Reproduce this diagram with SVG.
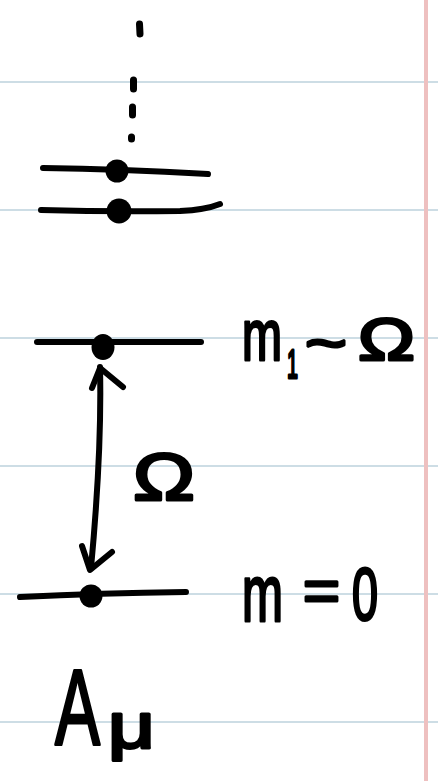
<svg xmlns="http://www.w3.org/2000/svg" width="438" height="781" viewBox="0 0 438 781">
<style>
.rule{stroke:#cddde5;stroke-width:2}
.margin{stroke:#eec0c0;stroke-width:4}
.ink{fill:none;stroke:#000;stroke-width:6;stroke-linecap:round;stroke-linejoin:round}
.dash{fill:none;stroke:#000;stroke-width:7;stroke-linecap:round}
.dot{fill:#000}
.t{font-family:"Liberation Sans",Arial,sans-serif;fill:#000;stroke:#000;stroke-width:3;stroke-linejoin:round}
</style>
<rect width="438" height="781" fill="#fff"/>
<g id="paper">
<line class="rule" x1="0" y1="82" x2="438" y2="82"/>
<line class="rule" x1="0" y1="210" x2="438" y2="210"/>
<line class="rule" x1="0" y1="338" x2="438" y2="338"/>
<line class="rule" x1="0" y1="466" x2="438" y2="466"/>
<line class="rule" x1="0" y1="594" x2="438" y2="594"/>
<line class="rule" x1="0" y1="722" x2="438" y2="722"/>
<line class="margin" x1="426" y1="0" x2="426" y2="781"/>
</g>
<g id="ellipsis">
<line class="dash" x1="139.5" y1="24" x2="140" y2="34"/>
<line class="dash" x1="133.5" y1="80" x2="133.5" y2="89"/>
<line class="dash" x1="132.5" y1="107" x2="132.5" y2="115"/>
<line class="dash" x1="131.5" y1="137" x2="131.5" y2="139"/>
</g>
<g id="level3">
<path class="ink" d="M43,168 Q120,169 208,174"/>
<circle class="dot" cx="117" cy="171" r="11.5"/>
</g>
<g id="level2">
<path class="ink" d="M41,210 Q110,212 180,211 Q205,210 220,204"/>
<circle class="dot" cx="119" cy="211" r="12.5"/>
</g>
<g id="level1">
<path class="ink" d="M37,342 L201,342"/>
<ellipse class="dot" cx="103" cy="347" rx="11.5" ry="13"/>
<text class="t"><tspan x="242" y="360" font-size="72" textLength="40" lengthAdjust="spacingAndGlyphs">m</tspan><tspan x="287" y="378" font-size="40" textLength="11" lengthAdjust="spacingAndGlyphs">1</tspan><tspan x="305" y="363" font-size="60" textLength="42" lengthAdjust="spacingAndGlyphs">~</tspan><tspan x="358" y="360" font-size="60" textLength="57" lengthAdjust="spacingAndGlyphs">Ω</tspan></text>
</g>
<g id="level0">
<path class="ink" d="M20,597 Q100,593 186,592"/>
<circle class="dot" cx="91" cy="596" r="11.5"/>
<text class="t"><tspan x="242" y="621" font-size="80" textLength="41" lengthAdjust="spacingAndGlyphs">m</tspan><tspan x="303" y="611" font-size="60" textLength="37" lengthAdjust="spacingAndGlyphs">=</tspan><tspan x="352" y="620" font-size="74" textLength="26" lengthAdjust="spacingAndGlyphs">0</tspan></text>
</g>
<g id="connectors">
<path class="ink" d="M100,367 Q102,450 91,568"/>
<path class="ink" d="M92,388 L100,368 L123,387"/>
<path class="ink" d="M82,546 L90,570 L112,552"/>
<text class="t" x="133" y="500" font-size="67" textLength="62" lengthAdjust="spacingAndGlyphs">Ω</text>
</g>
<g id="label">
<text class="t"><tspan x="55" y="745" font-size="108" textLength="45" lengthAdjust="spacingAndGlyphs">A</tspan><tspan x="108" y="748" font-size="64" textLength="47" lengthAdjust="spacingAndGlyphs">μ</tspan></text>
</g>
</svg>
